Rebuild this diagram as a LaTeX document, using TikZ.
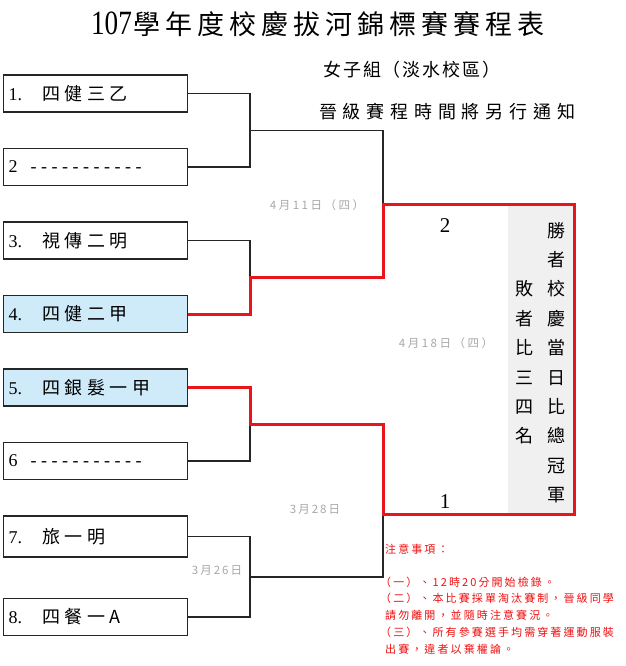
\documentclass[tikz,border=0pt]{standalone}
\usepackage{fontspec}
\setmainfont{Liberation Serif}
\newfontfamily\cjk{Noto Sans CJK TC}
\definecolor{wred}{HTML}{E8161B}
\definecolor{tred}{HTML}{F01010}
\definecolor{lblue}{HTML}{CFEBFA}
\definecolor{panelgray}{HTML}{F0F0F0}
\definecolor{dategray}{HTML}{A8A8A8}
\newdimen\spgap
\makeatletter
\def\sptxt#1#2{\spgap=#1\relax\sp@aux#2\relax}
\def\sp@aux#1{\ifx\relax#1\unskip\else#1\hskip\spgap\expandafter\sp@aux\fi}
\makeatother
\tikzset{
  teambox/.style={draw=black!85, line width=1.2pt, minimum width=184pt, minimum height=37pt,
    inner xsep=5pt, text width=174pt, align=left, anchor=west, font=\fontsize{18}{20}\selectfont},
  winbox/.style={teambox, fill=lblue},
  wire/.style={draw=black!85, line width=1.2pt},
  winner/.style={draw=wred, line width=3pt},
  datelbl/.style={text=dategray, inner sep=0pt, font=\cjk\fontsize{11.5}{13}\selectfont},
  vtext/.style={inner sep=0pt, align=center, font=\cjk\fontsize{18}{29.4}\selectfont},
  note/.style={text=tred, inner sep=0pt, anchor=west, font=\cjk\fontsize{11}{13}\selectfont},
  head/.style={inner sep=0pt}
}
\begin{document}
\begin{tikzpicture}[x=1pt,y=-1pt]
\useasboundingbox (0,0) rectangle (625,666);
\fill[white] (0,0) rectangle (625,666);

% headings
\node[head, font=\fontsize{34}{36}\selectfont] (title) at (318,24)
  {\scalebox{0.8}[1]{107}\hspace{2pt}{\cjk\fontsize{27}{30}\selectfont\sptxt{5pt}{學年度校慶拔河錦標賽賽程表}}};
\node[head, font=\cjk\fontsize{18}{20}\selectfont] (sub1) at (412,70) {\sptxt{2pt}{女子組（淡水校區）}};
\node[head, font=\cjk\fontsize{18}{20}\selectfont] (sub2) at (447,112) {\sptxt{5.8pt}{晉級賽程時間將另行通知}};

% coordinates
\coordinate (m12) at (250,130.5);
\coordinate (m34) at (250,277);
\coordinate (m56) at (250,424);
\coordinate (m78) at (250,577);
\coordinate (f1) at (383,204);
\coordinate (f2) at (383,514);
\coordinate (ftr) at (574,204);
\coordinate (fbr) at (574,514);

% final panel
\fill[panelgray] (508,204) rectangle (fbr);

% teams
\node[teambox] (b1) at (3,93.5) {1.\hspace{20pt}{\cjk\sptxt{4.5pt}{四健三乙}}};
\node[teambox] (b2) at (3,167) {2\hspace{13pt}\sptxt{4.5pt}{-----------}};
\node[teambox] (b3) at (3,240.5) {3.\hspace{20pt}{\cjk\sptxt{4.5pt}{視傳二明}}};
\node[winbox] (b4) at (3,314) {4.\hspace{20pt}{\cjk\sptxt{4.5pt}{四健二甲}}};
\node[winbox] (b5) at (3,387.5) {5.\hspace{20pt}{\cjk\sptxt{4.5pt}{四銀髮一甲}}};
\node[teambox] (b6) at (3,461) {6\hspace{13pt}\sptxt{4.5pt}{-----------}};
\node[teambox, minimum height=41pt] (b7) at (3,536.5) {7.\hspace{20pt}{\cjk\sptxt{4.5pt}{旅一明}}};
\node[teambox] (b8) at (3,617) {8.\hspace{20pt}{\cjk\sptxt{4.5pt}{四餐一A}}};

% black connectors
\draw[wire] (b1.east) -| (m12) |- (b2.east);
\draw[wire] (m12) -| (f1);
\draw[wire] (b3.east) -| (m34);
\draw[wire] (b6.east) -| (m56);
\draw[wire] (b7.east) -| (m78) |- (b8.east);
\draw[wire] (m78) -| (f2);

% winner path
\draw[winner] (b4.east) -| (m34) -| (f1) -| (fbr) -- (f2) |- (m56) |- (b5.east);

% date labels
\node[datelbl] (d1) at (317,205) {\sptxt{2.5pt}{4月11日（四）}};
\node[datelbl] (d2) at (446,343) {\sptxt{2.5pt}{4月18日（四）}};
\node[datelbl] (d3) at (315,509) {\sptxt{2pt}{3月28日}};
\node[datelbl] (d4) at (217,570) {\sptxt{2pt}{3月26日}};

% final numbers
\node[head, font=\fontsize{21}{24}\selectfont] (n2) at (445,226) {2};
\node[head, font=\fontsize{21}{24}\selectfont] (n1) at (445,502) {1};

% vertical texts
\node[vtext] (champ) at (556,362.5) {勝\\者\\校\\慶\\當\\日\\比\\總\\冠\\軍};
\node[vtext] (third) at (524,362.5) {敗\\者\\比\\三\\四\\名};

% notes
\node[note] (t0) at (385,549) {\sptxt{2.1pt}{注意事項：}};
\node[note] (t1) at (380,582) {\sptxt{2.1pt}{（一）、12時20分開始檢錄。}};
\node[note] (t2) at (380,598) {\sptxt{2.1pt}{（二）、本比賽採單淘汰賽制，晉級同學}};
\node[note] (t3) at (385,615) {\sptxt{2.1pt}{請勿離開，並隨時注意賽況。}};
\node[note] (t4) at (380,632) {\sptxt{2.1pt}{（三）、所有參賽選手均需穿著運動服裝}};
\node[note] (t5) at (385,649) {\sptxt{2.1pt}{出賽，違者以棄權論。}};
\end{tikzpicture}
\end{document}
